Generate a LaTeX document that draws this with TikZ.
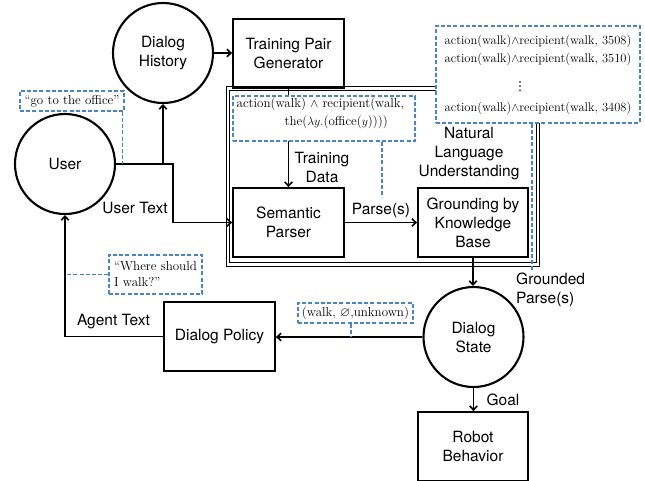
\documentclass[tikz,border=0pt]{standalone}
\usepackage{amssymb}
\usepackage{fontspec}
\newfontfamily\hel{TeX Gyre Heros}
\newfontfamily\djv{DejaVu Sans}
\usetikzlibrary{arrows.meta}
\definecolor{annblue}{HTML}{4A84C8}
\begin{document}
\begin{tikzpicture}[x=1pt,y=-1pt,
  sf/.style={font=\hel\fontsize{15.5}{19}\selectfont, align=center},
  circ/.style={circle, draw, line width=2.1pt, minimum size=100pt, inner sep=0pt, sf},
  boxn/.style={draw, line width=1.8pt, inner sep=0pt, sf},
  lab/.style={sf, inner sep=0pt},
  ann/.style={draw=annblue, dash pattern=on 4pt off 2.2pt, line width=1.4pt, fill=white, inner sep=0pt, font=\fontsize{13}{16}\selectfont},
  anl/.style={draw=annblue, dash pattern=on 4pt off 2.2pt, line width=1.4pt},
  conn/.style={line width=1.6pt, -{Straight Barb[length=4pt,width=7.5pt]}},
  annt/.style={inner sep=0pt, font=\fontsize{12.5}{15}\selectfont},
]
\useasboundingbox (0,0) rectangle (645,480);
% frame
\draw[line width=1.2pt, double distance=2.2pt] (228,88.5) rectangle (538,264.5);
% nodes
\node[circ] (user) at (65,164) {User};
\node[circ] (dh) at (163,53) {Dialog\\History};
\node[circ] (ds) at (473.5,337) {Dialog\\State};
\node[boxn, minimum width=111pt, minimum height=69pt] (tpg) at (288.5,53.5) {Training Pair\\Generator};
\node[boxn, minimum width=111pt, minimum height=69pt] (sp) at (288.5,222.5) {Semantic\\Parser};
\node[boxn, minimum width=110pt, minimum height=69pt] (gkb) at (473,222.5) {Grounding by\\Knowledge\\Base};
\node[boxn, minimum width=111pt, minimum height=69pt] (dp) at (219.5,336.5) {Dialog Policy};
\node[boxn, minimum width=110pt, minimum height=69pt] (rb) at (473,446.5) {Robot\\Behavior};
% labels
\node[lab] (lut) at (135,208) {User Text};
\node[lab] (ltd) at (322,167) {Training\\Data};
\node[lab] (lps) at (381,210) {Parse(s)};
\node[lab] (lnlu) at (469,154) {Natural\\Language\\Understanding};
\node[lab, anchor=west, align=left] (lgp) at (516,290) {Grounded\\Parse(s)};
\node[lab] (lgoal) at (503,400) {Goal};
\node[lab] (lat) at (113.5,322) {Agent Text};
% connectors
\draw[conn] (dh.east) -- (dh.east -| tpg.west);
\coordinate (utc) at (173,164);
\draw[conn] (user.east) -- (utc) |- (sp.west);
\draw[conn] (user.east -| dh.south) -- (dh.south);
\draw[conn] (tpg.south) -- (sp.north);
\draw[conn] (sp.east) -- (gkb.west);
\draw[conn] (gkb.south) -- (gkb.south |- ds.north);
\draw[conn] (ds.west) -- (ds.west -| dp.east);
\draw[conn] (dp.west) -| (user.south);
\draw[conn] (ds.south) -- (ds.south |- rb.north);
% annotations
\node[ann, minimum width=104pt, minimum height=20pt] (a1) at (72,101) {``go to the office''};
\node[ann, minimum width=182pt, minimum height=45pt] (a2) at (324,118.5) {};
\node[annt, anchor=west, font=\fontsize{13}{15}\selectfont] (a2l1) at (236.5,104.5) {action(walk) $\wedge$ recipient(walk,};
\node[annt, anchor=west, font=\fontsize{13}{15}\selectfont] (a2l2) at (284.5,122) {the($\lambda y.$(office($y$))))};
\node[ann, minimum width=204pt, minimum height=97pt] (a3) at (538,74.5) {};
\node[annt] (a3l1) at (538,41) {action(walk)$\wedge$recipient(walk, 3508)};
\node[annt] (a3l2) at (538,59) {action(walk)$\wedge$recipient(walk, 3510)};
\node[annt, font=\djv\fontsize{12.5}{15}\selectfont] (a3l3) at (520,87) {⋮};
\node[annt] (a3l4) at (538,108) {action(walk)$\wedge$recipient(walk, 3408)};
\node[ann, minimum width=93pt, minimum height=39pt, align=left] (a4) at (155.5,274.5) {``Where should\\I walk?''};
\node[ann, minimum width=115pt, minimum height=20pt] (a5) at (355.5,313) {(walk, $\varnothing$,unknown)};
% annotation connectors
\draw[anl] ([xshift=-2pt]a1.south east) -- ([xshift=-2pt]a1.south east |- user.east);
\coordinate (a2e) at (382,197);
\draw[anl] (a2.south -| a2e) -- (a2e);
\coordinate (a3e) at (532,270);
\draw[anl] (a3.south -| a3e) -- (a3e);
\draw[anl] (a4.west) -- (a4.west -| user.south);
\coordinate (a5e) at (351,0);
\draw[anl] (a5.south -| a5e) -- (a5e |- ds.west);
\end{tikzpicture}
\end{document}
